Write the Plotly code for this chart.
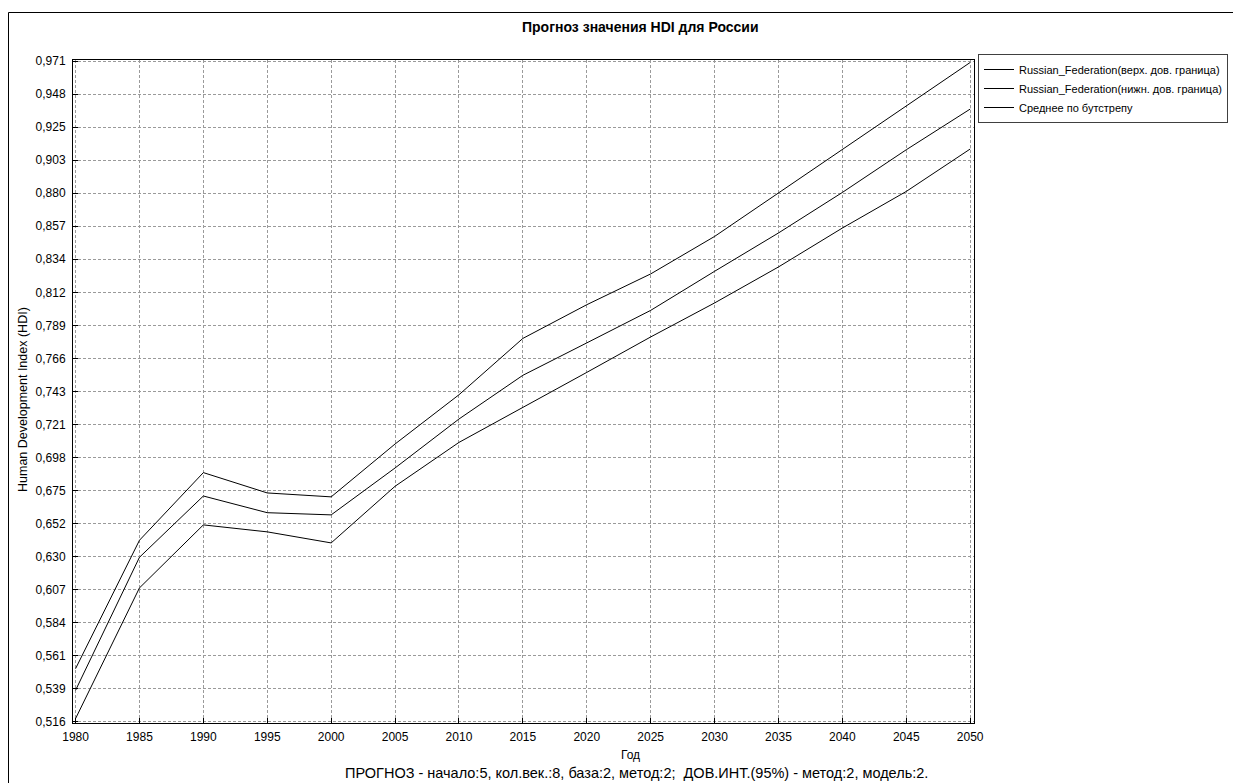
import numpy as np
import plotly.graph_objects as go

years = [1980, 1985, 1990, 1995, 2000, 2005, 2010, 2015, 2020, 2025, 2030, 2035, 2040, 2045, 2050]
upper = [0.5524, 0.6408, 0.6874, 0.6734, 0.6707, 0.7071, 0.7410, 0.7798, 0.8030, 0.8242, 0.8500, 0.8799, 0.9104, 0.9402, 0.9698]
lower = [0.5180, 0.6080, 0.6514, 0.6466, 0.6390, 0.6780, 0.7082, 0.7321, 0.7564, 0.7808, 0.8042, 0.8290, 0.8558, 0.8810, 0.9102]
mean = [0.5375, 0.6291, 0.6713, 0.6598, 0.6583, 0.6906, 0.7243, 0.7544, 0.7767, 0.7991, 0.8260, 0.8524, 0.8803, 0.9097, 0.9377]

series_names = [
    "Russian_Federation(верх. дов. граница)",
    "Russian_Federation(нижн. дов. граница)",
    "Среднее по бутстрепу",
]

y_tick_labels = ["0,516", "0,539", "0,561", "0,584", "0,607", "0,630", "0,652", "0,675", "0,698", "0,721",
                 "0,743", "0,766", "0,789", "0,812", "0,834", "0,857", "0,880", "0,903", "0,925", "0,948", "0,971"]
x_tick_labels = [str(y) for y in years]

title_text = "Прогноз значения HDI для России"
y_title = "Human Development Index (HDI)"
x_title = "Год"
footer = "ПРОГНОЗ - начало:5, кол.век.:8, база:2, метод:2;  ДОВ.ИНТ.(95%) - метод:2, модель:2."

y_tick_vals = list(np.linspace(0.5158, 0.9708, len(y_tick_labels)))

FONT = "Liberation Sans, Arial, sans-serif"

fig = go.Figure()
for name, vals in zip(series_names, [upper, lower, mean]):
    fig.add_trace(go.Scatter(x=years, y=vals, mode="lines", name=name,
                             line=dict(color="#000000", width=1)))

# page has an 8px body margin: figure pixel = reference pixel - 8
OFF = 8
W, H = 1241 - OFF, 783 - OFF
L, R, T, B = 73 - OFF, 974 - OFF, 60 - OFF, 723 - OFF


def px_x(p):
    return (p - OFF - L) / (R - L)


def px_y(p):
    return (B - (p - OFF)) / (B - T)


axis_common = dict(
    showline=True, linecolor="#000000", linewidth=1, mirror=True,
    ticks="inside", ticklen=5, tickcolor="#000000",
    showgrid=True, gridcolor="#9a9a9a", gridwidth=1, griddash="3px,2px",
    zeroline=False, tickfont=dict(family=FONT, size=12, color="#000000"),
)

fig.update_layout(
    width=W, height=H,
    margin=dict(l=L, r=W - R, t=T, b=H - B, autoexpand=False),
    paper_bgcolor="white", plot_bgcolor="white",
    font=dict(family=FONT, size=12, color="#000000"),
    xaxis=dict(range=[1979.8, 2050.3], tickvals=years, ticktext=x_tick_labels,
               ticklabelstandoff=3, **axis_common),
    yaxis=dict(range=[0.5150, 0.9715], tickvals=y_tick_vals, ticktext=y_tick_labels,
               ticklabelstandoff=4, **axis_common),
    showlegend=True,
    legend=dict(x=px_x(978), y=px_y(54), xanchor="left", yanchor="top",
                bordercolor="#404040", borderwidth=1, bgcolor="white",
                font=dict(family=FONT, size=11, color="#000000"),
                itemwidth=30, tracegroupgap=0),
)

fig.add_shape(type="rect", xref="paper", yref="paper",
              x0=px_x(8.5), x1=px_x(1400), y0=px_y(900), y1=px_y(12.5),
              line=dict(color="#000000", width=1), layer="below")

fig.add_annotation(text="<b>" + title_text + "</b>", xref="paper", yref="paper",
                   x=px_x(640), y=px_y(27), xanchor="center", yanchor="middle", showarrow=False,
                   font=dict(family=FONT, size=14, color="#000000"))
fig.add_annotation(text=y_title, xref="paper", yref="paper", textangle=-90,
                   x=px_x(23), y=px_y(400), xanchor="center", yanchor="middle", showarrow=False,
                   font=dict(family=FONT, size=12.5, color="#000000"))
fig.add_annotation(text=x_title, xref="paper", yref="paper",
                   x=px_x(630), y=px_y(755), xanchor="center", yanchor="middle", showarrow=False,
                   font=dict(family=FONT, size=12, color="#000000"))
fig.add_annotation(text=footer, xref="paper", yref="paper",
                   x=px_x(636), y=px_y(773), xanchor="center", yanchor="middle", showarrow=False,
                   font=dict(family=FONT, size=14.5, color="#000000"))

fig.write_html("out.html")
